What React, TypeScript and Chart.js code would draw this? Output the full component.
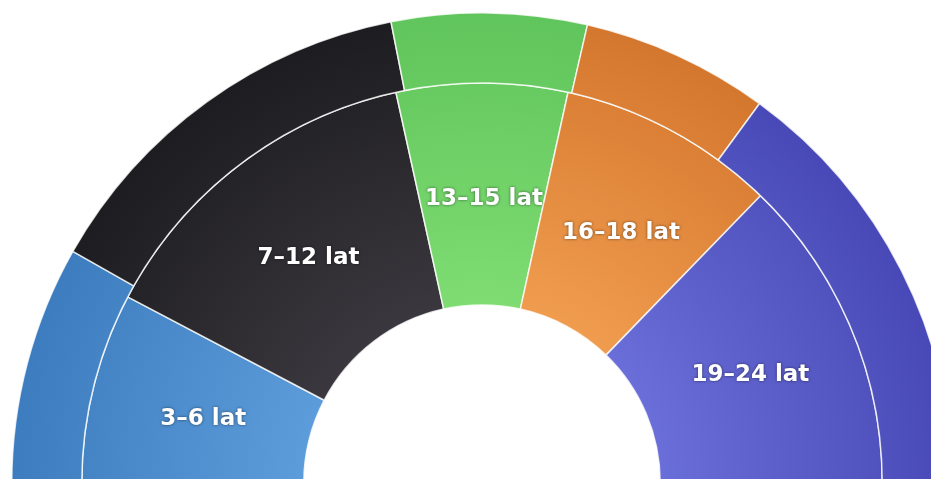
import React, { useEffect, useRef } from "react";
import { Chart, registerables } from "chart.js";

Chart.register(...registerables);

const categories = ["3–6 lat", "7–12 lat", "13–15 lat", "16–18 lat", "19–24 lat"];
const outerValues = [16.4, 27.4, 13.4, 12.9, 29.9];
const innerValues = [15.4, 27.7, 13.8, 17.6, 25.5];
const lightColors = ["#5c9cda", "#3a383e", "#7edc72", "#f09c4e", "#6a6ed8"];
const darkColors = ["#3d7dbf", "#1d1c20", "#60c55c", "#d4772e", "#4849b6"];

function gradient(c: any) {
  const chart = c.chart;
  const i = c.dataIndex;
  const ca = chart.chartArea;
  if (!ca) return darkColors[i];
  const R = Math.min(ca.width, ca.height * 2) / 2;
  const cx = (ca.left + ca.right) / 2;
  const cy = (ca.top + ca.bottom) / 2 + R / 2;
  const g = chart.ctx.createRadialGradient(cx, cy, R * 0.379, cx, cy, R);
  g.addColorStop(0, lightColors[i]);
  g.addColorStop(1, darkColors[i]);
  return g;
}

const labelPlugin = {
  id: "ringLabels",
  afterDatasetsDraw(chart: any) {
    const meta = chart.getDatasetMeta(1);
    const ctx = chart.ctx;
    ctx.save();
    ctx.font = "bold 23px 'DejaVu Sans'";
    ctx.fillStyle = "#ffffff";
    ctx.textAlign = "center";
    ctx.textBaseline = "middle";
    ctx.shadowColor = "rgba(0,0,0,0.55)";
    ctx.shadowBlur = 3;
    meta.data.forEach((arc: any, i: number) => {
      const p = arc.tooltipPosition(false);
      ctx.fillText(categories[i], p.x + 2, p.y + 5);
    });
    ctx.restore();
  },
};

export default function App() {
  const ref = useRef<HTMLCanvasElement | null>(null);
  useEffect(() => {
    if (!ref.current) return;
    const chart = new Chart(ref.current, {
      type: "doughnut",
      data: {
        labels: categories,
        datasets: [
          {
            data: outerValues,
            weight: 70,
            backgroundColor: gradient,
            borderColor: "rgba(255,255,255,0.8)",
            borderWidth: 1.5,
          },
          {
            data: innerValues,
            weight: 222,
            backgroundColor: gradient,
            borderColor: "rgba(255,255,255,0.8)",
            borderWidth: 1.5,
          },
        ],
      },
      options: {
        animation: false,
        responsive: true,
        maintainAspectRatio: false,
        rotation: -90,
        circumference: 180,
        cutout: "37.9%",
        layout: { padding: 0 },
        plugins: {
          legend: { display: false },
          tooltip: { enabled: false },
        },
      },
      plugins: [labelPlugin],
    });
    return () => chart.destroy();
  }, []);

  return (
    <div
      style={{
        position: "fixed",
        left: 0,
        top: 0,
        width: 931,
        height: 479,
        overflow: "hidden",
        background: "#ffffff",
      }}
    >
      <div style={{ position: "absolute", left: 11, top: 8, width: 942, height: 480 }}>
        <canvas ref={ref} />
      </div>
    </div>
  );
}
